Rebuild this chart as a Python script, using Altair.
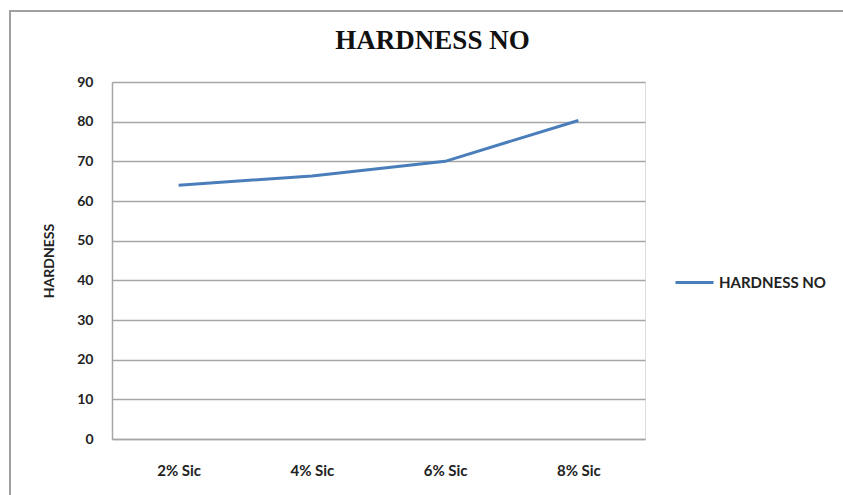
import altair as alt
import pandas as pd

categories = ["2% Sic", "4% Sic", "6% Sic", "8% Sic"]
hardness = [64.0, 66.3, 70.0, 80.3]
series_name = "HARDNESS NO"

df = pd.DataFrame({"cat": categories, "val": hardness, "series": [series_name] * len(categories)})

line = alt.Chart(df).mark_line(strokeWidth=3).encode(
    x=alt.X("cat:N", sort=categories, title=None,
            scale=alt.Scale(paddingInner=0, paddingOuter=0.5),
            axis=alt.Axis(labelAngle=0, labelFont="Lato", labelFontWeight="bold", labelFontSize=15,
                          labelColor="#222222", labelPadding=24, ticks=False, grid=False,
                          domainColor="#a6a6a6", domainWidth=1.5)),
    y=alt.Y("val:Q", title="HARDNESS",
            scale=alt.Scale(domain=[0, 90], nice=False),
            axis=alt.Axis(values=list(range(0, 91, 10)), labelFont="Lato", labelFontWeight="bold",
                          labelFontSize=14, labelColor="#222222", labelPadding=19, ticks=False,
                          gridColor="#a6a6a6", gridWidth=1.5, domainColor="#a6a6a6", domainWidth=1.5,
                          titleFont="Lato", titleFontWeight="bold", titleFontSize=14, titleColor="#222222",
                          titlePadding=20)),
    color=alt.Color("series:N", scale=alt.Scale(range=["#4a7ebb"]),
                    legend=alt.Legend(title=None, orient="none", legendX=562, legendY=180,
                                      symbolType="stroke", symbolStrokeWidth=3, symbolSize=1444,
                                      labelFont="Lato", labelFontSize=15, labelFontWeight="bold",
                                      labelColor="#222222", labelOffset=4)),
)

frame = alt.Chart(pd.DataFrame({"k": [0]})).mark_rect(fill=None, stroke="#a0a0a0", strokeWidth=2).encode(
    x=alt.value(-102), x2=alt.value(760), y=alt.value(-71), y2=alt.value(430)
)

chart = alt.layer(frame, line).properties(
    width=533, height=357,
    title=alt.TitleParams(series_name, font="Liberation Serif", fontSize=27, fontWeight="bold",
                          color="#111111", anchor="middle", dx=54, dy=59, offset=14),
    padding={"left": 112, "top": 82, "right": 198, "bottom": 56},
    autosize=alt.AutoSizeParams(type="none"),
).configure_view(stroke=None).configure(background="white")

chart.save("out.html", embed_options={"renderer": "svg", "actions": False})
